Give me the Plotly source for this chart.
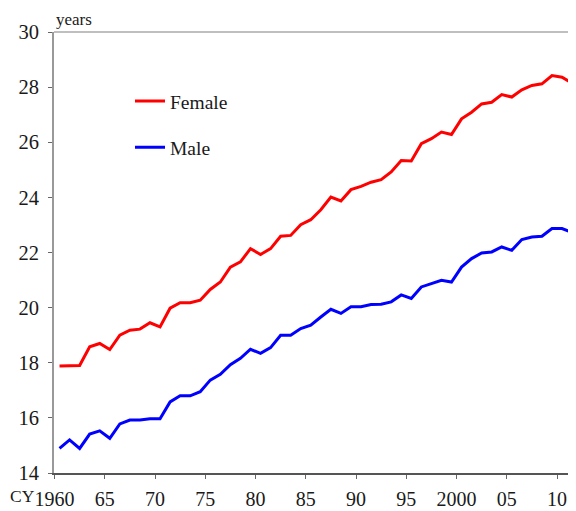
import plotly.graph_objects as go

years = list(range(1960, 2012))

female = [17.88, 17.90, 17.90, 18.58, 18.70, 18.48, 19.00, 19.18, 19.22, 19.45,
          19.30, 19.98, 20.18, 20.18, 20.27, 20.66, 20.93, 21.47, 21.66, 22.14,
          21.93, 22.14, 22.59, 22.62, 23.01, 23.19, 23.55, 24.01, 23.87, 24.28,
          24.40, 24.55, 24.64, 24.92, 25.34, 25.32, 25.95, 26.13, 26.37, 26.28,
          26.85, 27.09, 27.39, 27.45, 27.73, 27.64, 27.90, 28.06, 28.12, 28.42,
          28.36, 28.14]

male = [14.89, 15.20, 14.89, 15.41, 15.53, 15.26, 15.78, 15.92, 15.92, 15.97,
        15.97, 16.58, 16.80, 16.80, 16.95, 17.37, 17.58, 17.93, 18.16, 18.49,
        18.34, 18.55, 19.00, 19.00, 19.24, 19.36, 19.66, 19.94, 19.79, 20.03,
        20.03, 20.11, 20.12, 20.21, 20.46, 20.33, 20.75, 20.87, 20.99, 20.93,
        21.47, 21.78, 21.98, 22.02, 22.20, 22.08, 22.47, 22.56, 22.59, 22.87,
        22.87, 22.72]

tick_years = [1960, 1965, 1970, 1975, 1980, 1985, 1990, 1995, 2000, 2005, 2010]
tick_labels = ["1960", "65", "70", "75", "80", "85", "90", "95", "2000", "05", "10"]

FONT = "Liberation Serif, Times New Roman, serif"

fig = go.Figure()
fig.add_trace(go.Scatter(x=years, y=female, mode="lines", name="Female",
                         legendgroup="f",
                         line=dict(color="#FF0000", width=3)))
fig.add_trace(go.Scatter(x=years, y=male, mode="lines", name="Male",
                         legendgroup="m",
                         line=dict(color="#0000FF", width=3)))

fig.update_layout(
    width=568, height=503,
    margin=dict(l=46, r=0, t=24, b=38),
    paper_bgcolor="white", plot_bgcolor="white",
    font=dict(family=FONT, size=19, color="#1a1a1a"),
    showlegend=True,
    legend=dict(x=0.1456, y=0.887, xanchor="left", yanchor="top",
                bgcolor="rgba(0,0,0,0)", borderwidth=0,
                font=dict(family=FONT, size=19.5, color="#1a1a1a"),
                tracegroupgap=18),
    xaxis=dict(range=[1959.45, 2011.39],
               tickmode="array",
               tickvals=[y - 0.5 for y in tick_years],
               ticktext=tick_labels,
               ticks="outside", ticklen=4, tickcolor="#666",
               showline=True, linecolor="#555", linewidth=1.5,
               showgrid=False, zeroline=False,
               tickfont=dict(family=FONT, size=20, color="#1a1a1a"),
               ticklabelstandoff=3),
    yaxis=dict(range=[14, 30], dtick=2,
               ticks="outside", ticklen=4, tickcolor="#666",
               showline=True, linecolor="#999", linewidth=2,
               showgrid=False, zeroline=False,
               tickfont=dict(family=FONT, size=20.5, color="#1a1a1a"),
               ticklabelstandoff=5),
    shapes=[dict(type="line", xref="paper", yref="paper",
                 x0=0, x1=1, y0=1, y1=1,
                 line=dict(color="#aaaaaa", width=1.5))],
    annotations=[
        dict(text="years", xref="paper", yref="paper", x=0, y=1,
             xanchor="left", yanchor="bottom", showarrow=False, yshift=1,
             font=dict(family=FONT, size=17, color="#1a1a1a")),
        dict(text="CY", xref="paper", yref="paper", x=-46 / 522, y=0,
             xanchor="left", yanchor="top", showarrow=False, yshift=-11,
             font=dict(family=FONT, size=17.5, color="#1a1a1a")),
    ],
)

fig.write_html("out.html")
